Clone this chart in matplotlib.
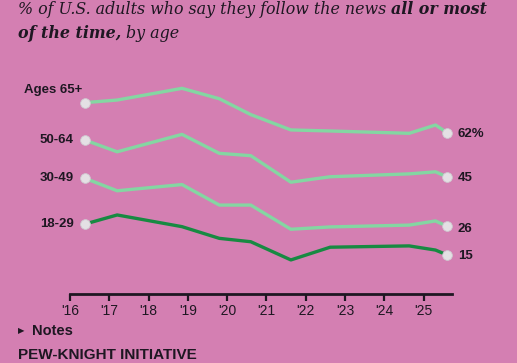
import matplotlib
matplotlib.use("Agg")
import matplotlib.pyplot as plt

# survey dates (fractional years) and shares following news all/most of the time
years = [2016.38, 2017.2, 2018.85, 2019.8, 2020.6, 2021.62, 2022.62, 2024.63, 2025.3, 2025.6]
age_65 = [73.6, 74.6, 79.1, 75.1, 69.0, 63.1, 62.7, 61.8, 65.0, 62]
age_50 = [59.2, 54.7, 61.4, 54.1, 53.2, 43.0, 45.1, 46.2, 47.0, 45]
age_30 = [44.5, 39.7, 42.1, 34.2, 34.2, 24.9, 25.8, 26.5, 28.1, 26]
age_18 = [26.9, 30.4, 25.9, 21.4, 20.1, 13.1, 18.0, 18.5, 16.9, 15]

series_names = ["Ages 65+", "50-64", "30-49", "18-29"]
end_labels = ["62%", "45", "26", "15"]
tick_years = list(range(2016, 2026))
tick_labels = ["'%02d" % (y % 100) for y in tick_years]

bg = "#D47FB2"
light = "#84D6A2"
dark = "#178A42"
ink = "#1E1722"
narrow = ["Liberation Sans Narrow", "Liberation Sans"]

fig = plt.figure(figsize=(5.17, 3.63), dpi=100, facecolor=bg)
W, H = 517, 363
ax = fig.add_axes([70 / W, 69 / H, 382 / W, 213.2 / H])
ax.set_facecolor(bg)
ax.set_xlim(2016, 2016 + 382 / 39.3)
ax.set_ylim(0, 82)

data = [age_65, age_50, age_30, age_18]
colors = [light, light, light, dark]
for vals, c in zip(data, colors):
    ax.plot(years, vals, color=c, lw=2.4, solid_capstyle="round", zorder=3)
    ax.plot([years[0], years[-1]], [vals[0], vals[-1]], "o", ms=7,
            color="#E4E0E4", mec="#CFC8D0", mew=0.6, zorder=4)

# series labels at the left
for name, vals in zip(series_names, data):
    dy = 4.7 if name == "Ages 65+" else 0
    dx = 0.22 if name == "Ages 65+" else 0
    ax.text(years[0] - 0.28 + dx, vals[0] + dy, name, ha="right", va="center",
            fontsize=9.5, fontweight="bold", color=ink, family=narrow)

# end values at the right
offs = [-0.5, -0.3, -1.0, -0.5]
for lab, vals, o in zip(end_labels, data, offs):
    ax.text(years[-1] + 0.27, vals[-1] + o, lab, ha="left", va="center",
            fontsize=9.5, fontweight="bold", color=ink, family=narrow)

for s in ["top", "right", "left"]:
    ax.spines[s].set_visible(False)
ax.spines["bottom"].set_linewidth(2)
ax.spines["bottom"].set_color(ink)
ax.set_yticks([])
ax.set_xticks(tick_years)
ax.set_xticklabels(tick_labels, fontsize=10, color=ink, family="Liberation Sans")
ax.tick_params(axis="x", length=5, width=1.6, color=ink, pad=2)

# title with mixed italic / bold italic pieces, sized so line 1 spans ~472 px
renderer = fig.canvas.get_renderer()
def chain(pieces, x0, y0, size):
    x = x0
    made = []
    for txt, weight in pieces:
        t = fig.text(x, y0, txt, fontsize=size, style="italic", fontweight=weight,
                     family="DejaVu Serif", color=ink, va="center", ha="left")
        bb = t.get_window_extent(renderer)
        x = bb.x1 / W
        made.append(t)
    return x, made

line1 = [("% of U.S. adults who say they follow the news ", "normal"), ("all or most", "bold")]
line2 = [("of the time,", "bold"), (" by age", "normal")]
size = 12.5
end, made = chain(line1, 18 / W, 1 - 9 / H, size)
for t in made:
    t.remove()
size = size * (472 / W) / (end - 18 / W)
chain(line1, 18 / W, 1 - 9 / H, size)
chain(line2, 18 / W, 1 - 33 / H, size)

fig.text(18 / W, 1 - 331 / H, "\u25B6", fontsize=6, color=ink, va="center", ha="left",
         family="DejaVu Sans")
fig.text(32 / W, 1 - 331 / H, "Notes", fontsize=10.5, fontweight="bold", color=ink,
         va="center", ha="left", family=narrow)
fig.text(18 / W, 1 - 355 / H, "PEW-KNIGHT INITIATIVE", fontsize=11, fontweight="bold",
         color=ink, va="center", ha="left", family=narrow)

fig.savefig("out.png", dpi=100, facecolor=bg)
